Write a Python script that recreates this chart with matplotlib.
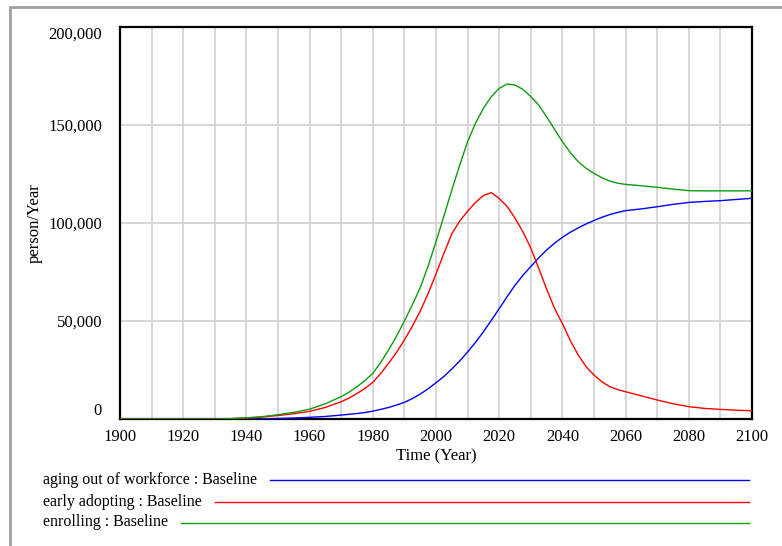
import numpy as np
import matplotlib
matplotlib.use("Agg")
import matplotlib.pyplot as plt
from matplotlib.lines import Line2D
from matplotlib.patches import Rectangle
from matplotlib.ticker import FuncFormatter, MultipleLocator

# Years of the readings (denser where the curves bend)
years = [1900, 1905, 1910, 1915, 1920, 1925, 1930, 1935, 1940, 1945,
         1950, 1955, 1960, 1965,
         1970, 1972.5, 1975, 1977.5, 1980, 1982.5, 1985, 1987.5, 1990, 1992.5,
         1995, 1997.5, 2000, 2002.5, 2005, 2007.5, 2010, 2012.5, 2015, 2017.5,
         2020, 2022.5, 2025, 2027.5, 2030, 2032.5, 2035, 2037.5, 2040, 2042.5,
         2045, 2047.5, 2050, 2052.5, 2055, 2057.5, 2060,
         2065, 2070, 2075, 2080, 2085, 2090, 2095, 2100]

aging_out = [0, 0, 0, 0, 0, 0, 0, 0, 0, 100,
             250, 500, 850, 1300,
             2000, 2400, 2800, 3300, 4000, 4900, 5900, 7100, 8500, 10400,
             12700, 15400, 18500, 21700, 25500, 29600, 34200, 39100, 44500, 50300,
             56300, 62400, 68200, 73300, 77800, 82200, 86200, 89700, 92700, 95300,
             97500, 99500, 101300, 102900, 104300, 105400, 106300,
             107200, 108300, 109500, 110500, 111000, 111400, 112000, 112600]

early_adopting = [0, 0, 0, 0, 0, 0, 0, 150, 500, 1000,
                  1800, 2700, 3900, 5900,
                  8800, 10700, 13000, 15600, 18700, 23200, 28400, 34000, 40300, 47300,
                  55000, 64000, 74000, 84500, 94500, 101000, 106000, 110500, 114000, 115500,
                  112500, 108500, 102500, 95500, 87200, 76900, 66300, 56500, 48700, 40000,
                  32700, 26700, 22400, 19000, 16500, 15000, 13900,
                  11800, 9700, 7800, 6300, 5400, 4900, 4500, 4200]

enrolling = [0, 0, 0, 0, 0, 0, 0, 200, 600, 1200,
             2200, 3400, 5000, 7800,
             11400, 13700, 16500, 19600, 23300, 28800, 35200, 42200, 50000, 58200,
             67000, 78000, 90500, 103500, 116800, 129500, 141500, 150900, 158500, 164500,
             168700, 170900, 170400, 168200, 164500, 160200, 154200, 147800, 141500, 135900,
             131300, 127900, 125300, 123100, 121400, 120300, 119700,
             119000, 118200, 117300, 116500, 116400, 116400, 116400, 116400]

series_labels = ["aging out of workforce : Baseline",
                 "early adopting : Baseline",
                 "enrolling : Baseline"]
series_colors = ["#0000ff", "#ff0000", "#109a10"]

plt.rcParams["font.family"] = ["Liberation Serif", "DejaVu Serif"]
plt.rcParams["font.size"] = 12

W, H = 782, 546
fig = plt.figure(figsize=(W / 100, H / 100), dpi=100)
ax = fig.add_axes([120 / W, 1 - 419 / H, 632 / W, 392 / H])

for vals, col, lab in zip([aging_out, early_adopting, enrolling], series_colors, series_labels):
    ax.plot(years, vals, color=col, lw=1.0, label=lab, zorder=3)

ax.set_xlim(1900, 2100)
ax.set_ylim(0, 200000)
ax.xaxis.set_major_locator(MultipleLocator(20))
ax.xaxis.set_minor_locator(MultipleLocator(10))
ax.set_yticks([0, 50000, 100000, 150000, 200000])
ax.yaxis.set_major_formatter(FuncFormatter(lambda v, p: f"{int(v):,}"))
ax.grid(True, which="both", color="#d4d4d4", lw=1.3, zorder=0)
ax.tick_params(which="both", length=0)
ax.tick_params(axis="y", pad=13)
ax.tick_params(axis="x", pad=7)
for s in ax.spines.values():
    s.set_linewidth(1.6)
    s.set_color("black")

ylabs = ax.get_yticklabels()
ylabs[0].set_va("bottom")
ylabs[-1].set_va("top")

ax.set_xlabel("Time (Year)", labelpad=3)
ax.set_ylabel("person/Year", labelpad=3.5)

# legend rows drawn under the plot, lines run from text end to the right edge
fig.canvas.draw()
renderer = fig.canvas.get_renderer()
row_y = [480, 501.5, 522.5]
for lab, col, y in zip(series_labels, series_colors, row_y):
    t = fig.text(43 / W, 1 - y / H, lab, ha="left", va="center", fontsize=11.5)
    bb = t.get_window_extent(renderer)
    x0 = (bb.x1 + 13) / W
    fig.add_artist(Line2D([x0, 749 / W], [1 - y / H, 1 - y / H], color=col, lw=1.0,
                          transform=fig.transFigure))

# window frame
fig.add_artist(Rectangle((10 / W, -0.05), 1.1, 1 - 7 / H + 0.05, transform=fig.transFigure,
                         fill=False, edgecolor="#a0a0a0", lw=2.0))

fig.savefig("out.png", dpi=100)
